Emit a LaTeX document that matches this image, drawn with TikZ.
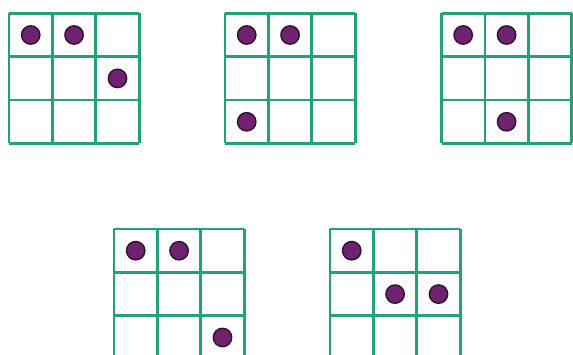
\documentclass[tikz,border=0pt]{standalone}
\definecolor{gridgreen}{RGB}{32,163,120}
\definecolor{dotfill}{RGB}{112,34,112}
\definecolor{dotedge}{RGB}{45,20,45}
\tikzset{
  gridline/.style={draw=gridgreen, line width=2.7pt, line cap=square},
  dotmark/.style={fill=dotfill, draw=dotedge, line width=1.4pt},
}
\begin{document}
\begin{tikzpicture}[x=1pt,y=-1pt]
\clip (0,0) rectangle (573,355);
\fill[white] (0,0) rectangle (573,355);
\def\cs{43.4}
\foreach \gx/\gy/\dl in {9/13.3/{0/0,1/0,2/1},
                          225/13.3/{0/0,1/0,0/2},
                          441.5/13.3/{0/0,1/0,1/2},
                          114/229/{0/0,1/0,2/2},
                          330/229/{0/0,1/1,2/1}} {
  \begin{scope}[shift={(\gx,\gy)}]
    \foreach \i in {0,1,2,3} {
      \draw[gridline] (\i*\cs,0) -- (\i*\cs,3*\cs);
      \draw[gridline] (0,\i*\cs) -- (3*\cs,\i*\cs);
    }
    \foreach \c/\r in \dl {
      \filldraw[dotmark] (\c*\cs+0.5*\cs, \r*\cs+0.5*\cs) circle (9.2pt);
    }
  \end{scope}
}
\end{tikzpicture}
\end{document}
